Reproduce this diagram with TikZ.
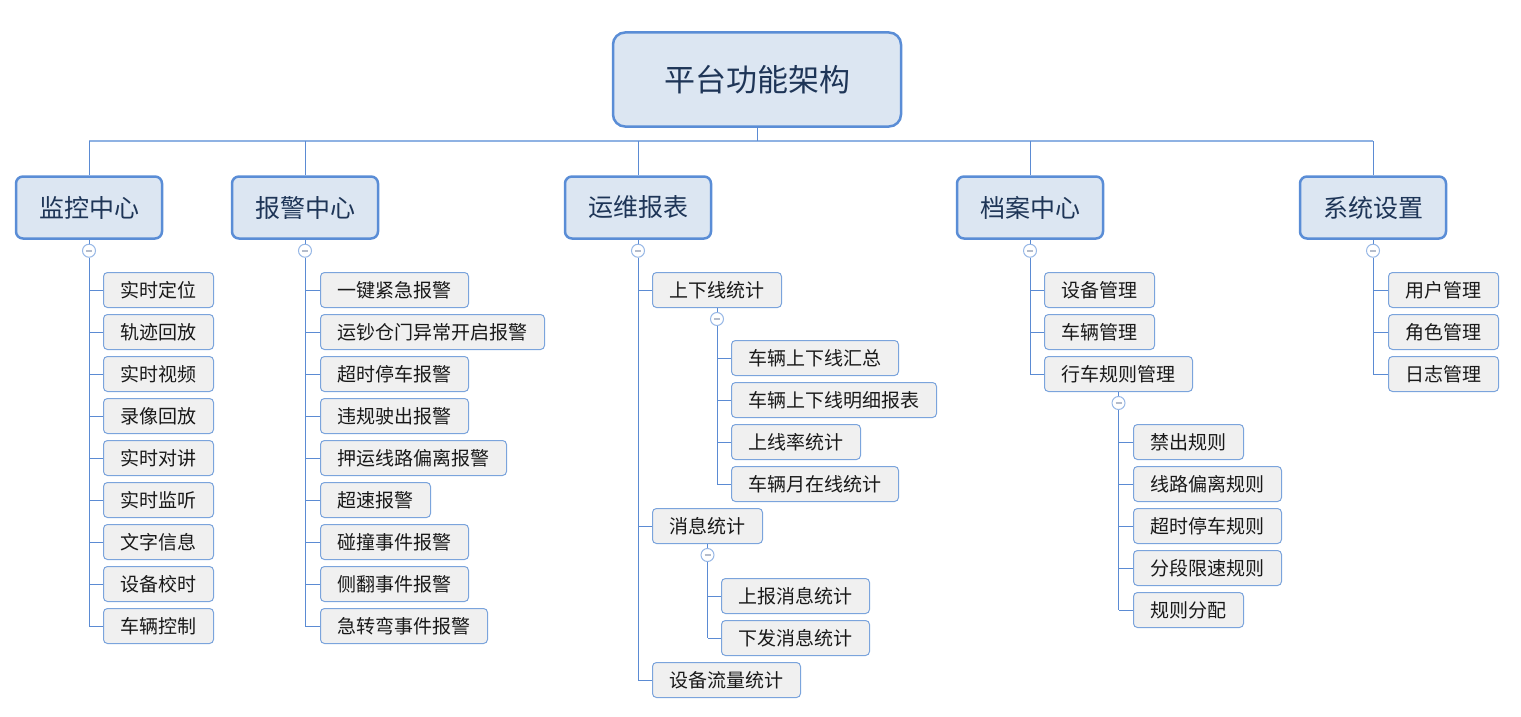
\documentclass[tikz,border=0pt]{standalone}
\usepackage{fontspec}
\setmainfont{Noto Sans CJK SC}
\usetikzlibrary{calc}
\definecolor{linec}{HTML}{5B8BD3}
\definecolor{busc}{HTML}{8FB2E3}
\definecolor{catfill}{HTML}{DCE6F2}
\definecolor{catdraw}{HTML}{5A8DD6}
\definecolor{cattext}{HTML}{1E3557}
\definecolor{leaffill}{HTML}{F0F0F0}
\definecolor{leafdraw}{HTML}{7BA4DC}
\definecolor{togdraw}{HTML}{98B8E6}
\definecolor{minusc}{HTML}{B4BCCB}
\tikzset{
  rootbox/.style={draw=catdraw, fill=catfill, line width=2.5pt, rounded corners=12pt,
    minimum width=288pt, minimum height=94pt, inner sep=0pt, text=cattext,
    font=\fontsize{31}{36}\selectfont},
  catbox/.style={draw=catdraw, fill=catfill, line width=2.5pt, rounded corners=7pt,
    minimum width=146pt, minimum height=62pt, inner sep=0pt, text=cattext,
    font=\fontsize{25}{30}\selectfont},
  leaf/.style={draw=leafdraw, fill=leaffill, line width=1pt, rounded corners=4pt,
    minimum height=35pt, inner xsep=17pt, inner ysep=0pt, anchor=west, text=black!90,
    font=\fontsize{19}{23}\selectfont},
  tog/.style={circle, draw=togdraw, fill=white, line width=1pt, minimum size=13pt, inner sep=0pt,
    path picture={\draw[minusc, line width=1.6pt] ([xshift=-3pt]path picture bounding box.center) -- ([xshift=3pt]path picture bounding box.center);}},
  conn/.style={draw=linec, line width=1pt},
  busline/.style={draw=busc, line width=1.2pt}
}
\begin{document}
\begin{tikzpicture}[x=1pt,y=-1pt]
\useasboundingbox (0,0) rectangle (1521,717);
% root and categories
\node[rootbox] (root) at (757,79.5) {平台功能架构};
\node[catbox] (c1) at (89,207.5) {监控中心};
\node[catbox] (c2) at (305,207.5) {报警中心};
\node[catbox] (c3) at (638,207.5) {运维报表};
\node[catbox] (c4) at (1030,207.5) {档案中心};
\node[catbox] (c5) at (1373,207.5) {系统设置};
\coordinate (busL) at (89,141);
\coordinate (busR) at (1373,141);
\draw[busline] (busL) -- (busR);
\draw[conn] (root.south) -- (root.south |- busL);
\foreach \c in {c1,c2,c3,c4,c5}{
  \draw[conn] (\c.north) -- (\c.north |- busL);
}
% toggles under categories
\foreach \c in {1,...,5}{
  \node[tog] (t\c) at ($(c\c.south)+(0,11)$) {};
  \draw[conn] (c\c.south) -- (t\c.north);
}
% column 1
\foreach \t [count=\i from 0] in {实时定位,轨迹回放,实时视频,录像回放,实时对讲,实时监听,文字信息,设备校时,车辆控制}{
  \node[leaf] (a\i) at (103,{290+42*\i}) {\t};
  \draw[conn] (a\i.west) -- (a\i.west -| t1.center);
}
\draw[conn] (t1.south) -- (t1.south |- a8.west);
% column 2
\foreach \t [count=\i from 0] in {一键紧急报警,运钞仓门异常开启报警,超时停车报警,违规驶出报警,押运线路偏离报警,超速报警,碰撞事件报警,侧翻事件报警,急转弯事件报警}{
  \node[leaf] (b\i) at (320,{290+42*\i}) {\t};
  \draw[conn] (b\i.west) -- (b\i.west -| t2.center);
}
\draw[conn] (t2.south) -- (t2.south |- b8.west);
% column 3
\node[leaf] (u1) at (652,290) {上下线统计};
\node[leaf] (u2) at (652,526) {消息统计};
\node[leaf] (u3) at (652,680) {设备流量统计};
\foreach \n in {u1,u2,u3}{ \draw[conn] (\n.west) -- (\n.west -| t3.center); }
\draw[conn] (t3.south) -- (t3.south |- u3.west);
\node[tog] (tu1) at ($(u1.south)+(0,11)$) {};
\draw[conn] (u1.south) -- (tu1.north);
\foreach \t [count=\i from 0] in {车辆上下线汇总,车辆上下线明细报表,上线率统计,车辆月在线统计}{
  \node[leaf] (s\i) at (731,{358+42*\i}) {\t};
  \draw[conn] (s\i.west) -- (s\i.west -| tu1.center);
}
\draw[conn] (tu1.south) -- (tu1.south |- s3.west);
\node[tog] (tu2) at ($(u2.south)+(0,11)$) {};
\draw[conn] (u2.south) -- (tu2.north);
\foreach \t [count=\i from 0] in {上报消息统计,下发消息统计}{
  \node[leaf] (m\i) at (721,{596+42*\i}) {\t};
  \draw[conn] (m\i.west) -- (m\i.west -| tu2.center);
}
\draw[conn] (tu2.south) -- (tu2.south |- m1.west);
% column 4
\foreach \t [count=\i from 0] in {设备管理,车辆管理,行车规则管理}{
  \node[leaf] (d\i) at (1044,{290+42*\i}) {\t};
  \draw[conn] (d\i.west) -- (d\i.west -| t4.center);
}
\draw[conn] (t4.south) -- (t4.south |- d2.west);
\node[tog] (td) at ($(d2.south)+(0,11)$) {};
\draw[conn] (d2.south) -- (td.north);
\foreach \t [count=\i from 0] in {禁出规则,线路偏离规则,超时停车规则,分段限速规则,规则分配}{
  \node[leaf] (r\i) at (1133,{442+42*\i}) {\t};
  \draw[conn] (r\i.west) -- (r\i.west -| td.center);
}
\draw[conn] (td.south) -- (td.south |- r4.west);
% column 5
\foreach \t [count=\i from 0] in {用户管理,角色管理,日志管理}{
  \node[leaf] (e\i) at (1388,{290+42*\i}) {\t};
  \draw[conn] (e\i.west) -- (e\i.west -| t5.center);
}
\draw[conn] (t5.south) -- (t5.south |- e2.west);
\end{tikzpicture}
\end{document}
